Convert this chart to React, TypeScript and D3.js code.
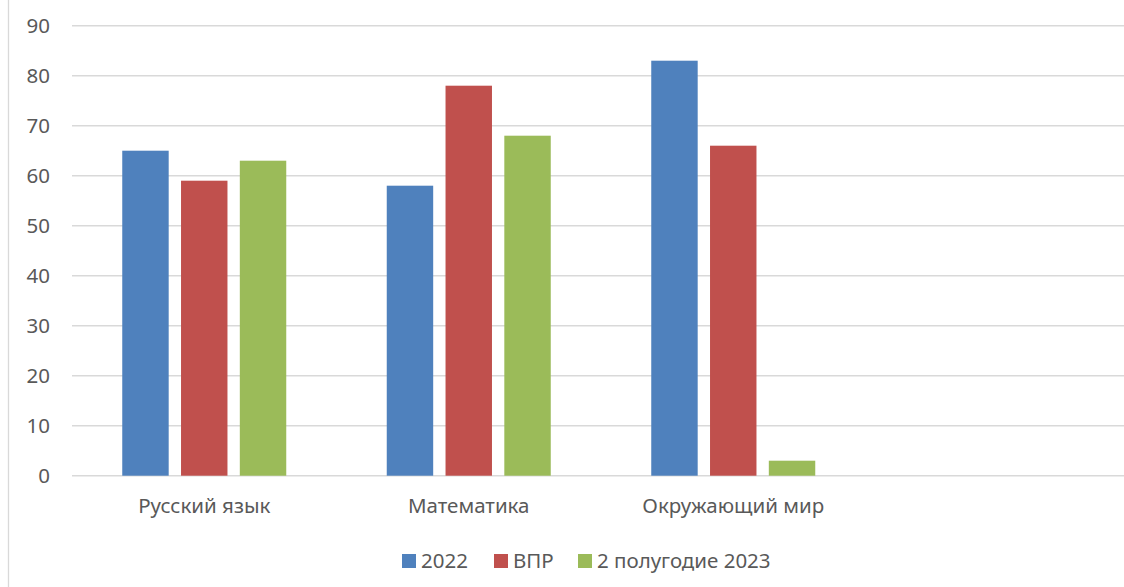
import React, { useEffect, useRef } from 'react'
import * as d3 from 'd3'

const categories = ['Русский язык', 'Математика', 'Окружающий мир', '']
const seriesNames = ['2022', 'ВПР', '2 полугодие 2023']
const values2022 = [65, 58, 83, null]
const valuesVpr = [59, 78, 66, null]
const values2023 = [63, 68, 3, null]
const yTicks = [0, 10, 20, 30, 40, 50, 60, 70, 80, 90]
const colors = ['#4f81bd', '#c0504d', '#9bbb59']

const width = 1124
const height = 587
const font = '"Noto Sans", "Open Sans", sans-serif'

const App: React.FC = () => {
    const svgRef = useRef<SVGSVGElement>(null)

    useEffect(() => {
        if (!svgRef.current) return
        const svg = d3.select(svgRef.current)
        svg.selectAll('*').remove()

        const series = [values2022, valuesVpr, values2023]

        const x = d3.scaleBand<string>()
            .domain(categories.map((c, i) => `${i}`))
            .range([72, 1130])

        const y = d3.scaleLinear().domain([0, 90]).range([475.7, 25.7])

        const groupW = 164
        const inner = d3.scaleBand<string>()
            .domain(seriesNames)
            .range([0, groupW])
            .paddingInner(0.21)
            .paddingOuter(0)

        // chart frame, only left edge visible
        svg.append('line')
            .attr('x1', 8.5).attr('x2', 8.5)
            .attr('y1', 0).attr('y2', height)
            .style('stroke', '#d9d9d9').style('stroke-width', 1.3)

        // gridlines
        svg.append('g').selectAll('line')
            .data(yTicks)
            .enter().append('line')
            .attr('x1', 72).attr('x2', width)
            .attr('y1', d => y(d)).attr('y2', d => y(d))
            .style('stroke', '#d9d9d9').style('stroke-width', 1.4)

        // y labels
        svg.append('g').selectAll('text')
            .data(yTicks)
            .enter().append('text')
            .attr('x', 50)
            .attr('y', d => y(d))
            .attr('dy', '0.35em')
            .style('text-anchor', 'end')
            .style('font-family', font)
            .style('font-size', '20.5px')
            .style('fill', '#595959')
            .text(d => d)

        // bars
        const groups = svg.append('g').selectAll('g')
            .data(categories)
            .enter().append('g')
            .attr('transform', (d, i) => `translate(${(x(`${i}`) ?? 0) + x.bandwidth() / 2 - groupW / 2},0)`)

        groups.each(function (c, ci) {
            d3.select(this).selectAll('rect')
                .data(seriesNames.map((s, si) => ({ s, si, v: series[si][ci] })).filter(d => d.v != null))
                .enter().append('rect')
                .attr('x', d => inner(d.s) ?? 0)
                .attr('width', inner.bandwidth())
                .attr('y', d => y(d.v as number))
                .attr('height', d => y(0) - y(d.v as number))
                .style('fill', d => colors[d.si])
        })

        // category labels
        svg.append('g').selectAll('text')
            .data(categories)
            .enter().append('text')
            .attr('x', (d, i) => (x(`${i}`) ?? 0) + x.bandwidth() / 2)
            .attr('y', 513)
            .style('text-anchor', 'middle')
            .style('font-family', font)
            .style('font-size', '20.5px')
            .style('fill', '#595959')
            .text(d => d)

        // legend
        const legendX = [402, 494, 578]
        const legend = svg.append('g').selectAll('g')
            .data(seriesNames)
            .enter().append('g')
            .attr('transform', (d, i) => `translate(${legendX[i]},561)`)
        legend.append('rect')
            .attr('x', 0).attr('y', -7)
            .attr('width', 14).attr('height', 14)
            .style('fill', (d, i) => colors[i])
        legend.append('text')
            .attr('x', 19)
            .attr('dy', '0.35em')
            .style('font-family', font)
            .style('font-size', '20.5px')
            .style('fill', '#595959')
            .text(d => d)
    }, [])

    return (
        <div style={{ position: 'fixed', left: 0, top: 0, background: '#fff' }}>
            <svg ref={svgRef} width={width} height={height} style={{ display: 'block' }} />
        </div>
    )
}

export default App
